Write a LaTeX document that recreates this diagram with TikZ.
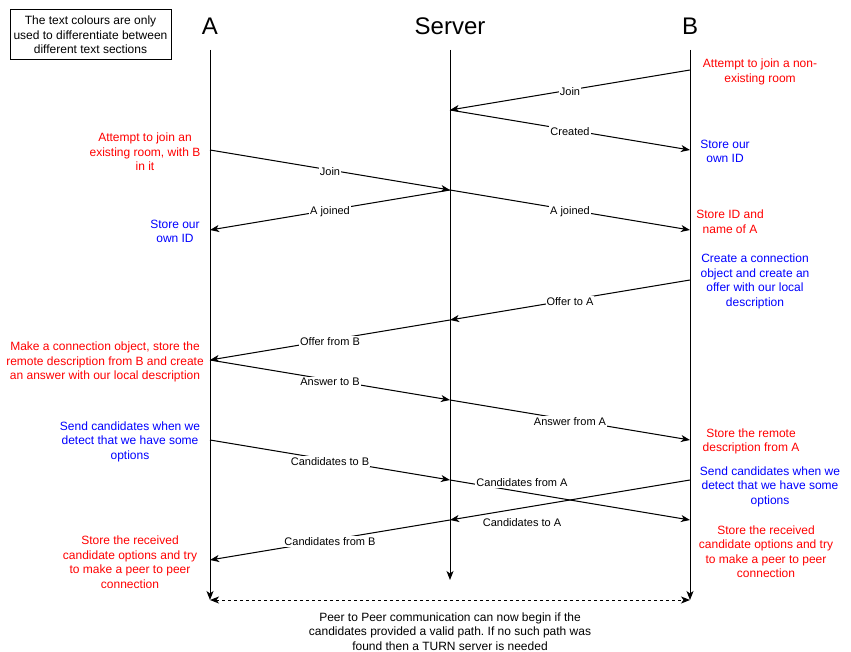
\documentclass[tikz,border=0pt]{standalone}
\usepackage{fontspec}
\setmainfont{Liberation Sans}
\usetikzlibrary{arrows.meta,positioning}
\frenchspacing

\begin{document}
\begin{tikzpicture}[x=1pt,y=-1pt,>={Stealth[length=9pt,width=7pt,inset=2.5pt]},line width=1pt]
  \tikzstyle{head}=[font=\fontsize{24}{28}\selectfont]
  \tikzstyle{note}=[align=center,inner sep=0pt,yshift=-1.5pt,font=\fontsize{12}{14.5}\selectfont]
  \tikzstyle{lbl}=[fill=white,inner sep=1pt,yshift=-1.5pt,font=\fontsize{11}{13}\selectfont]
  \tikzstyle{msg}=[->]
  \useasboundingbox (0,0) rectangle (851,652);
  \node[draw,align=center,inner sep=0pt,font=\fontsize{12}{14.5}\selectfont,minimum width=161pt,minimum height=50pt] (legend) at (90.5,35) {The text colours are only\\used to differentiate between\\different text sections};
  \node[head] (hA) at (210,26.5) {A};
  \node[head] (hS) at (450,26.5) {Server};
  \node[head] (hB) at (690,26.5) {B};
  \foreach \n/\x in {A/210,S/450,B/690}
    \foreach \y in {50,60,...,600}
      \coordinate (\n\y) at (\x,\y);
  \draw[->] (A50) -- (A600);
  \draw[->] (S50) -- (S580);
  \draw[->] (B50) -- (B600);
  \draw[<->,dash pattern=on 3pt off 3pt] (A600) -- (B600);
  \foreach \a/\b/\t in {B70/S110/Join,S110/B150/Created,A150/S190/Join,S190/A230/A joined,S190/B230/A joined,B280/S320/Offer to A,S320/A360/Offer from B,A360/S400/Answer to B,S400/B440/Answer from A,A440/S480/Candidates to B,S520/A560/Candidates from B}
    \draw[msg] (\a) -- node[lbl] {\t} (\b);
  \draw[msg] (S480) -- node[lbl,pos=0.3,yshift=11pt] {Candidates from A} (B520);
  \draw[msg] (B480) -- node[lbl,pos=0.7,yshift=-13pt] {Candidates to A} (S520);
  \node[note,text=red] (joinB) at (760,70.5) {Attempt to join a non-\\existing room};
  \node[note,text=blue] (idB) at (725,150) {Store our\\own ID};
  \node[note,text=red] (joinA) at (145,150.5) {Attempt to join an\\existing room, with B\\in it};
  \node[note,text=blue] (idA) at (175,230) {Store our\\own ID};
  \node[note,text=red] (storeB) at (730,220) {Store ID and\\name of A};
  \node[note,text=blue] (offerB) at (755,280) {Create a connection\\object and create an\\offer with our local\\description};
  \node[note,text=red] (answerA) at (105,360.5) {Make a connection object, store the\\remote description from B and create\\an answer with our local description};
  \node[note,text=red] (remoteB) at (751,440) {Store the remote\\description from A};
  \node[note,text=blue] (candA) at (130,440) {Send candidates when we\\detect that we have some\\options};
  \node[note,text=blue] (candB) at (770,485) {Send candidates when we\\detect that we have some\\options};
  \node[note,text=red] (p2pB) at (766,550) {Store the received\\candidate options and try\\to make a peer to peer\\connection};
  \node[note,text=red] (p2pA) at (130,560.5) {Store the received\\candidate options and try\\to make a peer to peer\\connection};
  \node[note] (final) at (450,630) {Peer to Peer communication can now begin if the\\candidates provided a valid path. If no such path was\\found then a TURN server is needed};
\end{tikzpicture}
\end{document}
